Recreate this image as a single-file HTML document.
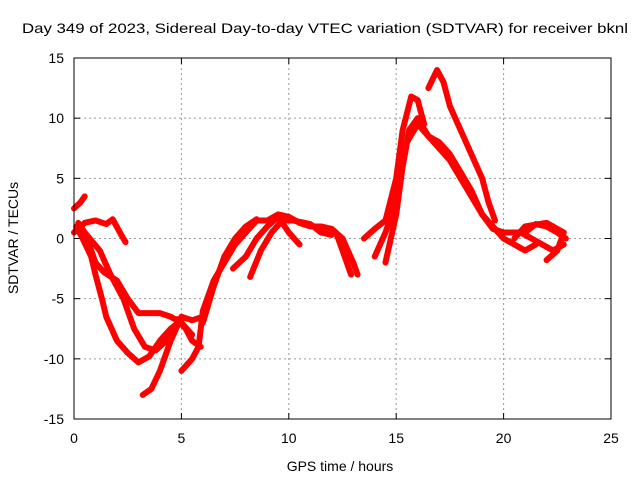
<!DOCTYPE html>
<html><head><meta charset="utf-8"><style>
body{margin:0;background:#fff}
svg text{font-family:"Liberation Sans",sans-serif;font-size:14px;fill:#000}
</style></head><body>
<svg id="chart" width="640" height="480">
<text x="22" y="33" textLength="606" lengthAdjust="spacingAndGlyphs">Day 349 of 2023, Sidereal Day-to-day VTEC variation (SDTVAR) for receiver bknl</text>
<text x="340" y="471" text-anchor="middle">GPS time / hours</text>
<text transform="translate(18,238) rotate(-90)" text-anchor="middle">SDTVAR / TECUs</text>
<g id="grid"></g><g id="ticks"></g><g id="series"></g>
<rect x="74" y="58" width="537" height="361" fill="none" stroke="#000" stroke-width="1"/>
</svg>
<script>
const xTicks=[0,5,10,15,20,25];
const yTicks=[-15,-10,-5,0,5,10,15];
const trackT=[[0,2.5],[0.3,3],[0.5,3.5]];
const trackA=[[0.1,1],[0.4,0],[0.8,-1.5],[1,-3],[1.3,-5],[1.5,-6.5],[2,-8.5],[2.5,-9.5],[3,-10.3],[3.5,-9.8],[4,-8.5],[4.5,-7.5],[5,-6.8]];
const trackB=[[0.2,1.3],[0.5,0.5],[1,-2],[1.4,-2.8],[2,-3.5],[2.5,-5],[3,-6.2],[4,-6.2],[4.5,-6.5],[5,-7],[5.5,-8]];
const trackC=[[0,0.5],[0.5,1.3],[1,1.5],[1.5,1.2],[1.8,1.6],[2.2,0.3],[2.4,-0.3]];
const trackD=[[0.5,0.5],[1.2,-1],[1.7,-3],[2.3,-5],[2.8,-7.5],[3.3,-9],[3.8,-9.3],[4.3,-8.5],[4.8,-7]];
const trackE=[[3.2,-13],[3.6,-12.5],[4,-11],[4.5,-8.5],[5,-6.5],[5.5,-6.8],[6,-6.5]];
const trackF=[[5,-11],[5.5,-10],[5.8,-9],[6,-6],[6.5,-3.5],[7,-2],[7.5,-0.5],[8,0.5],[8.5,1.5],[9,1.5],[9.5,2],[10,1.8],[10.5,1.3],[11,1],[11.5,1],[12,0.8],[12.5,0],[13,-2],[13.2,-3]];
const trackG=[[4.8,-6.7],[5.2,-7.5],[5.5,-8.5],[5.9,-9]];
const trackH=[[6,-7],[6.5,-4],[7,-1.5],[7.5,0],[8,1],[8.5,1.6]];
const trackI=[[7.4,-2.5],[8,-1.5],[8.5,0],[9,1],[9.5,1.8],[10,0.5],[10.5,-0.5]];
const trackJ=[[8.2,-3.2],[8.7,-1],[9.2,0.5],[9.7,1.5],[10.2,1.5],[11,1.2],[11.5,0.5],[12,0.3]];
const trackK=[[12.2,0.5],[12.6,-1.5],[12.9,-3]];
const trackL=[[13.5,0],[14,0.8],[14.5,1.5],[15,5],[15.3,9],[15.7,11.8],[16,11.5],[16.3,9.5]];
const trackM=[[14,-1.5],[14.5,0.5],[15,3],[15.5,8],[16,9.5],[16.5,8.5],[17,8],[17.5,7],[18,5.5],[18.5,4],[19,2],[19.5,0.8],[20,0.5],[21,0.5],[21.5,1.2],[22,1],[22.5,0.5],[22.9,0]];
const trackN=[[14.5,-2],[15,2],[15.3,6],[15.6,9],[16,10],[16.5,8.5],[17,7.5],[17.5,6.5],[18,5],[18.5,3.5],[19,2],[19.5,1],[20,0],[20.5,-0.5],[21,-1],[21.5,-0.5]];
const trackO=[[16.5,12.5],[16.9,14],[17.2,13],[17.5,11],[18,9],[18.5,7],[19,5],[19.3,3],[19.6,1.5]];
const trackP=[[20,0.5],[20.8,0.5],[21.3,0],[21.8,-0.5],[22.3,-1],[22.8,-0.5]];
const trackQ=[[20.5,0],[21,1],[22,1.3],[22.8,0.5],[22.5,-1],[22,-1.8]];
const tracks=[trackT,trackA,trackB,trackC,trackD,trackE,trackF,trackG,trackH,trackI,trackJ,trackK,trackL,trackM,trackN,trackO,trackP,trackQ];
const NS='http://www.w3.org/2000/svg';
function xs(h){return 74+h*(537/25);}
function ys(v){return 238.5-v*(361/30);}
function mk(tag,attrs,parent){const e=document.createElementNS(NS,tag);for(const k in attrs)e.setAttribute(k,attrs[k]);parent.appendChild(e);return e;}
const grid=document.getElementById('grid'),ticks=document.getElementById('ticks'),ser=document.getElementById('series');
xTicks.forEach(t=>{const x=xs(t);
 if(t>0&&t<25){const g=mk('line',{x1:x,x2:x,y1:58,y2:419,stroke:'#999','stroke-dasharray':'2,3'},grid);
 
 }
 mk('line',{x1:x,x2:x,y1:419,y2:413,stroke:'#000'},ticks);mk('line',{x1:x,x2:x,y1:58,y2:64,stroke:'#000'},ticks);
 const l=mk('text',{x:x,y:443,'text-anchor':'middle'},ticks);l.textContent=t;
 
 });
yTicks.forEach(t=>{const y=ys(t);
 if(t>-15&&t<15){const g=mk('line',{x1:74,x2:611,y1:y,y2:y,stroke:'#999','stroke-dasharray':'2,3'},grid);
 
 }
 mk('line',{x1:74,x2:80,y1:y,y2:y,stroke:'#000'},ticks);mk('line',{x1:611,x2:605,y1:y,y2:y,stroke:'#000'},ticks);
 const l=mk('text',{x:64,y:y+5,'text-anchor':'end'},ticks);l.textContent=t;
 
 });
tracks.forEach(tr=>{
 const p=mk('polyline',{points:tr.map(d=>xs(d[0])+','+ys(d[1])).join(' '),fill:'none',stroke:'#f00','stroke-width':6,'stroke-linejoin':'round','stroke-linecap':'round'},ser);
 
 });
</script>
</body></html>
